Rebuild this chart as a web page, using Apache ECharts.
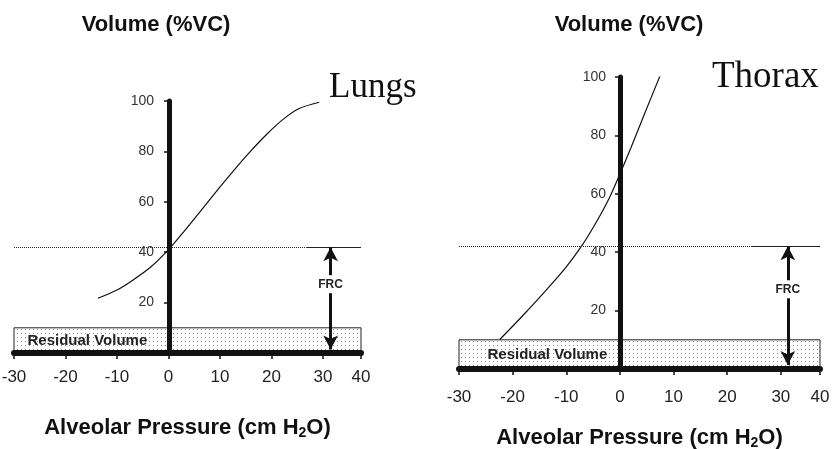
<!DOCTYPE html>
<html>
<head>
<meta charset="utf-8">
<script src="https://cdn.jsdelivr.net/npm/echarts@6/dist/echarts.min.js"></script>
<style>
  html, body { margin: 0; padding: 0; background: #fff; }
  #main { width: 832px; height: 449px; }
</style>
</head>
<body>
<div id="main"></div>
<script>
// pressure-volume curves
const lungsX = [-13.7, -10, -7, -3.5, 0, 3.4, 6, 9.9, 12.5, 15.7, 19, 22.2, 25.4, 29.3];
const lungsY = [21.7, 25, 28.8, 34, 41, 49.2, 55.7, 65.6, 72, 79.5, 86.6, 92.6, 97, 99.5];
const thoraxX = [-22.4, -18, -14, -10, -7, -4.5, -2, 0, 2, 4.5, 7.5];
const thoraxY = [10.1, 18.5, 26.5, 35, 42.5, 50, 58.5, 66.8, 75.5, 87, 100.5];

const panelNames = ["Lungs", "Thorax"];
const yTitle = "Volume (%VC)";
const xTitle = "Alveolar Pressure (cm H{sub|2}O)";
const frcLevel = 42;       // %VC
const residualLevel = 10;  // %VC
const frcX = [31.5, 31.3];
const solidFrom = [26.8, 24.6];
// the original draws the "40" tick short of a true 40
const xEnd = [37.4, 37.3];

const FONT = "Liberation Sans, Arial, sans-serif";
const SERIF = "Liberation Serif, Times New Roman, serif";

// dotted fill for the residual volume box
const dot = document.createElement("canvas");
dot.width = 4;
dot.height = 4;
const ctx = dot.getContext("2d");
ctx.fillStyle = "#fff";
ctx.fillRect(0, 0, 4, 4);
ctx.fillStyle = "#8a8a8a";
ctx.fillRect(1, 1, 1, 1);

const chart = echarts.init(document.getElementById("main"));

function zip(xs, ys) {
  return xs.map((x, i) => [x, ys[i]]);
}

const grids = [
  { left: 14, right: 471, top: 101, bottom: 96, containLabel: false, outerBoundsMode: "none" },
  { left: 459, right: 12, top: 77, bottom: 80, containLabel: false, outerBoundsMode: "none" },
];
const xLabelMargin = [16, 20];
const xNameGap = [63, 57];
const yLabelMargin = [15, 14];
// y axis sits at x = 0, i.e. this far right of the grid's left edge
const yShift = [155, 161];
const rvDistance = [14, 29];

function xAxisFor(i) {
  return {
    gridIndex: i,
    type: "value",
    min: -30,
    max: xEnd[i],
    interval: 10,
    z: 5,
    axisLine: { onZero: false, lineStyle: { color: "#111", width: 6 } },
    axisTick: { length: 6, lineStyle: { color: "#111", width: 1.5 } },
    splitLine: { show: false },
    axisLabel: {
      margin: xLabelMargin[i],
      fontSize: 17,
      color: "#222",
      fontFamily: FONT,
      formatter: (v) => (v > 30 ? "40" : String(v)),
    },
    name: xTitle,
    nameLocation: "middle",
    nameGap: xNameGap[i],
    nameTextStyle: {
      fontSize: 22,
      fontWeight: "bold",
      color: "#111",
      fontFamily: FONT,
      rich: {
        sub: { fontSize: 14, fontWeight: "bold", color: "#111", fontFamily: FONT, padding: [10, 0, 0, 0] },
      },
    },
  };
}

function yAxisFor(i) {
  return {
    gridIndex: i,
    type: "value",
    position: "left",
    offset: -yShift[i],
    min: 0,
    max: 100,
    interval: 20,
    z: 5,
    axisLine: { onZero: false, lineStyle: { color: "#111", width: 5 } },
    axisTick: { length: 5, lineStyle: { color: "#111", width: 1.5 } },
    splitLine: { show: false },
    axisLabel: {
      margin: yLabelMargin[i],
      fontSize: 14,
      color: "#333",
      fontFamily: FONT,
      formatter: (v) => (v === 0 ? "" : String(v)),
    },
  };
}

function curveSeries(i, data) {
  return {
    type: "line",
    xAxisIndex: i,
    yAxisIndex: i,
    data: data,
    smooth: 0.3,
    showSymbol: false,
    silent: true,
    z: 3,
    lineStyle: { color: "#111", width: 1.2 },
    markArea: {
      silent: true,
      itemStyle: { color: { image: dot, repeat: "repeat" }, borderColor: "#222", borderWidth: 1 },
      label: {
        show: true,
        position: "insideLeft",
        distance: rvDistance[i],
        formatter: "Residual Volume",
        fontSize: 15,
        fontWeight: "bold",
        color: "#222",
        fontFamily: FONT,
      },
      data: [[{ coord: [-30, 0] }, { coord: [xEnd[i], residualLevel] }]],
    },
    markLine: {
      silent: true,
      symbol: "none",
      label: { show: false },
      animation: false,
      data: [
        [
          { coord: [-30, frcLevel], lineStyle: { type: "dotted", color: "#222", width: 1 } },
          { coord: [solidFrom[i], frcLevel], lineStyle: { type: "dotted", color: "#222", width: 1 } },
        ],
        [
          { coord: [solidFrom[i], frcLevel], lineStyle: { type: "solid", color: "#222", width: 1 } },
          { coord: [xEnd[i], frcLevel], lineStyle: { type: "solid", color: "#222", width: 1 } },
        ],
      ],
    },
  };
}

function frcSeries(i) {
  return {
    type: "line",
    xAxisIndex: i,
    yAxisIndex: i,
    data: [],
    z: 6,
    markLine: {
      silent: true,
      animation: false,
      symbol: ["arrow", "arrow"],
      symbolSize: [11, 14],
      lineStyle: { color: "#111", width: 3, type: "solid" },
      label: { show: false },
      data: [[{ coord: [frcX[i], frcLevel] }, { coord: [frcX[i], 1.4] }]],
    },
    markPoint: {
      silent: true,
      animation: false,
      symbol: "rect",
      symbolSize: [30, 18],
      itemStyle: { color: "#fff" },
      label: {
        show: true,
        position: "inside",
        formatter: "FRC",
        fontSize: 12,
        fontWeight: "bold",
        color: "#222",
        fontFamily: FONT,
      },
      data: [{ coord: [frcX[i], 27.3] }],
    },
  };
}

const option = {
  animation: false,
  backgroundColor: "#fff",
  grid: grids,
  xAxis: [xAxisFor(0), xAxisFor(1)],
  yAxis: [yAxisFor(0), yAxisFor(1)],
  graphic: [
    { type: "text", x: 156, y: 25, style: { text: yTitle, font: "bold 22px " + FONT, fill: "#111", align: "center", verticalAlign: "middle" } },
    { type: "text", x: 629, y: 25, style: { text: yTitle, font: "bold 22px " + FONT, fill: "#111", align: "center", verticalAlign: "middle" } },
    { type: "text", x: 329, y: 88, style: { text: panelNames[0], font: "35px " + SERIF, fill: "#111", align: "left", verticalAlign: "middle" } },
    { type: "text", x: 712, y: 77, style: { text: panelNames[1], font: "37px " + SERIF, fill: "#111", align: "left", verticalAlign: "middle" } },
  ],
  series: [
    curveSeries(0, zip(lungsX, lungsY)),
    frcSeries(0),
    curveSeries(1, zip(thoraxX, thoraxY)),
    frcSeries(1),
  ],
};

chart.setOption(option);
</script>
</body>
</html>
